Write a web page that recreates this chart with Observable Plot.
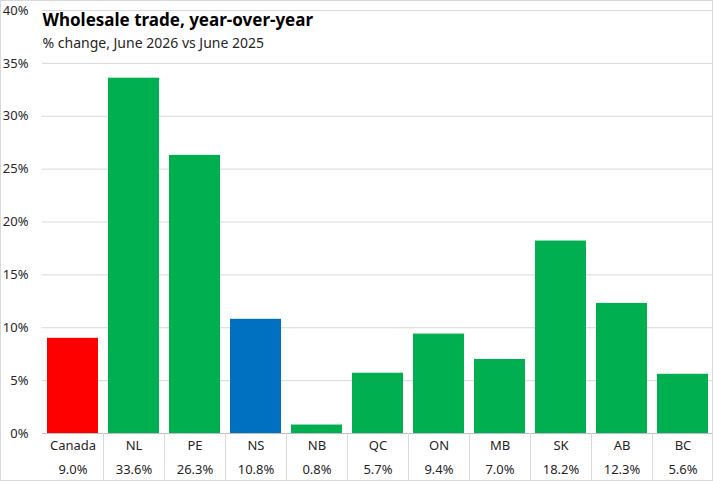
<!DOCTYPE html>
<html>
<head>
<meta charset="utf-8">
<script src="https://cdn.jsdelivr.net/npm/d3@7"></script>
<script src="https://cdn.jsdelivr.net/npm/@observablehq/plot@0.6"></script>
<style>
  html, body { margin: 0; padding: 0; background: #fff; }
  #chart svg { display: block; outline: 1px solid #d9d9d9; outline-offset: -1px; }
</style>
</head>
<body>
<div id="chart"></div>
<script>
const regions = ["Canada", "NL", "PE", "NS", "NB", "QC", "ON", "MB", "SK", "AB", "BC"];
const changes = [9.0, 33.6, 26.3, 10.8, 0.8, 5.7, 9.4, 7.0, 18.2, 12.3, 5.6];
const yTicks = [0, 5, 10, 15, 20, 25, 30, 35, 40];
const title = "Wholesale trade, year-over-year";
const subtitle = "% change, June 2026 vs June 2025";

const colorOf = r => r === "Canada" ? "#ff0000" : r === "NS" ? "#0070c0" : "#00b050";
const data = regions.map((r, i) => ({region: r, value: changes[i]}));
const valueLabel = new Map(data.map(d => [d.region, d.value.toFixed(1) + "%"]));

const W = 713, H = 481, mL = 42, mR = 0, mT = 10, mB = 48;
const step = (W - mL - mR) / regions.length;
const yBottom = -mB * 40 / (H - mT - mB);
const font = "'Noto Sans', sans-serif";

const chart = Plot.plot({
  width: W, height: H,
  marginLeft: mL, marginRight: mR, marginTop: mT, marginBottom: mB,
  style: {fontFamily: font, color: "#000", background: "#fff"},
  x: {domain: regions, paddingInner: 0.165, paddingOuter: 0.0825, axis: null},
  y: {domain: [0, 40], axis: null},
  marks: [
    Plot.gridY(yTicks, {stroke: "#d9d9d9", strokeOpacity: 1}),
    Plot.axisY(yTicks, {tickSize: 0, tickPadding: 14, tickFormat: d => d + "%", fontSize: 13, fill: "#262626", label: null}),
    Plot.barY(data, {x: "region", y: "value", fill: d => colorOf(d.region)}),
    Plot.ruleY([0], {stroke: "#bfbfbf"}),
    Plot.ruleX(regions.slice(1), {x: d => d, dx: -step / 2, y1: 0, y2: yBottom, stroke: "#d9d9d9"}),
    Plot.axisX({tickSize: 0, tickPadding: 7, fontSize: 13, fill: "#262626", tickFormat: d => d, label: null}),
    Plot.axisX({tickSize: 0, tickPadding: 31, fontSize: 13, fill: "#262626", tickFormat: d => valueLabel.get(d), label: null}),
    Plot.text([title], {frameAnchor: "top-left", dx: 0, dy: 3, text: d => d, fontSize: 17, fontWeight: "bold", textAnchor: "start", lineAnchor: "top", fill: "#000", fontFamily: "'Noto Sans', sans-serif"}),
    Plot.text([subtitle], {frameAnchor: "top-left", dx: 0, dy: 28, text: d => d, fontSize: 14, textAnchor: "start", lineAnchor: "top", fill: "#262626"})
  ]
});
document.getElementById("chart").appendChild(chart);
</script>
</body>
</html>
